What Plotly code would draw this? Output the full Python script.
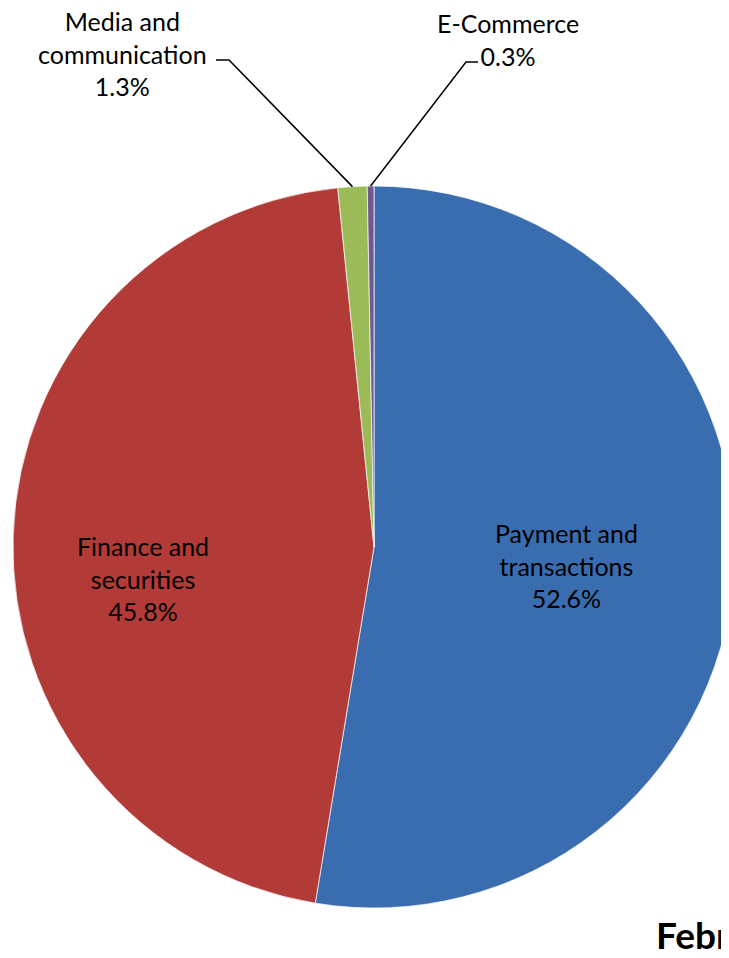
import math
import plotly.graph_objects as go

# shares of fraud by industry (percent)
sectors = ["Payment and transactions", "Finance and securities",
           "Media and communication", "E-Commerce"]
sector_text = ["Payment and<br>transactions", "Finance and<br>securities",
               "Media and<br>communication", "E-Commerce"]
shares = [52.6, 45.8, 1.3, 0.3]
colors = ["#3A6DB0", "#B23B38", "#9BBB59", "#71588F"]
title_text = "February"

W, H = 729, 958
OFF = 8  # body margin of the html page
# pie placement (page pixels): centre (374, 547), radius 361
CX, CY, R = 374, 547, 361
M_L = CX - OFF - R
M_T = CY - OFF - R
M_R = W - M_L - 2 * R
M_B = H - M_T - 2 * R


def px_to_paper(x, y):
    """Page pixel -> paper coordinates."""
    return ((x - OFF - M_L) / (2 * R), 1 - (y - OFF - M_T) / (2 * R))


def edge_point(idx):
    """Page pixel point on the rim at the middle of slice idx (clockwise from 12 o'clock)."""
    total = sum(shares)
    start = sum(shares[:idx]) / total
    mid = (start + shares[idx] / total / 2) * 2 * math.pi
    return CX + R * math.sin(mid), CY - R * math.cos(mid)


fig = go.Figure(go.Pie(
    labels=sectors, values=shares, sort=False, direction="clockwise",
    rotation=0, marker=dict(colors=colors, line=dict(color="rgba(255,255,255,0.7)", width=1)),
    textinfo="none", showlegend=False, hoverinfo="label+percent",
))

font = dict(family="Lato, Open Sans, sans-serif", size=25, color="black")

# label centres (page px)
label_pos = [(566, 565), (143, 578), (122, 53), (508, 40)]
for i, (lx, ly) in enumerate(label_pos):
    px, py = px_to_paper(lx, ly)
    fig.add_annotation(x=px, y=py, xref="paper", yref="paper",
                       xanchor="center", yanchor="middle",
                       text=f"{sector_text[i]}<br>{shares[i]:.1f}%",
                       showarrow=False, align="center", font=font)

# elbow leader lines for the two thin slices: (slice, elbow start, elbow end)
leaders = [(2, (216, 60), (229, 60)), (3, (478, 62), (466, 62))]
for idx, (ex0, ey0), (ex1, ey1) in leaders:
    tipx, tipy = edge_point(idx)
    pts = [px_to_paper(ex0, ey0), px_to_paper(ex1, ey1), px_to_paper(tipx, tipy)]
    path = "M {} {} L {} {} L {} {}".format(*[v for p in pts for v in p])
    fig.add_shape(type="path", path=path, xref="paper", yref="paper",
                  line=dict(color="black", width=1.5))

tx, ty = px_to_paper(654, 934)
fig.add_annotation(x=tx, y=ty, xref="paper", yref="paper",
                   xanchor="left", yanchor="middle",
                   text=f"<b>{title_text}</b>", showarrow=False,
                   font=dict(family="Lato, Open Sans, sans-serif", size=37, color="black"))

fig.update_layout(
    width=W, height=H,
    margin=dict(l=M_L, r=M_R, t=M_T, b=M_B),
    paper_bgcolor="white", plot_bgcolor="white",
)
fig.write_html("out.html")
